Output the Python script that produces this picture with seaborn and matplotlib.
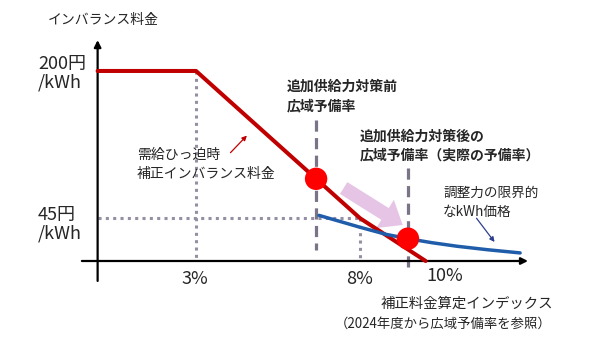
import numpy as np
import pandas as pd
import matplotlib
matplotlib.use("Agg")
import matplotlib.pyplot as plt
import seaborn as sns

# Corrected imbalance price (yen/kWh) against the wide-area reserve margin (%)
red_x = [0, 3, 8, 10]
red_y = [200, 200, 45, 0]

# Marginal kWh price of balancing capacity
blue_x = [6.75, 8.0, 8.8, 9.46, 10.2, 10.96, 11.9, 12.88]
blue_y = [48, 35.5, 28, 23.5, 19.2, 15.5, 11.8, 8.5]

# Reserve margin before / after the additional supply measures
before_x, before_y = 6.66, 86.5
after_x, after_y = 9.46, 23.5

price_levels = [200, 45]
price_labels = ["200円", "45円"]
index_ticks = [3, 8, 10]
index_labels = ["3%", "8%", "10%"]

sns.set_theme(style="white")
plt.rcParams["font.family"] = ["Noto Sans CJK JP", "DejaVu Sans"]

W, H = 590, 337
fig = plt.figure(figsize=(W / 100, H / 100), dpi=100)
ax = fig.add_axes([0, 0, 1, 1])
ax.set_xlim(-2.976, 15.01)
ax.set_ylim(-80.0, 274.7)
ax.axis("off")


def fx(px):
    return px / W


def fy(py):
    return 1 - py / H


dot_col = "#958FA3"
dash_col = "#7A7486"
red_col = "#C00000"
blue_col = "#1F5DAA"

# guide lines
dots = dict(color=dot_col, lw=2.2, ls=(0, (1, 1.4)), zorder=1)
ax.plot([0, 8], [45, 45], **dots)
ax.plot([3, 3], [200, 0], **dots)
ax.plot([8, 8], [45, 0], **dots)
ax.plot([before_x, before_x], [148, 12], color=dash_col, lw=2.3, ls=(0, (3.5, 2)), zorder=1)
ax.plot([after_x, after_x], [98, -10], color=dash_col, lw=2.3, ls=(0, (3.5, 2)), zorder=1)

# axes with arrow heads
ax.annotate("", xy=(0, 232.5), xytext=(0, -21),
            arrowprops=dict(arrowstyle="-|>", color="black", lw=1.6,
                            mutation_scale=10, shrinkA=0, shrinkB=0))
ax.annotate("", xy=(13.12, 0), xytext=(-0.48, 0),
            arrowprops=dict(arrowstyle="-|>", color="black", lw=1.6,
                            mutation_scale=10, shrinkA=0, shrinkB=0))

# shift arrow from the pre-measure point towards the actual point
ax.annotate("", xy=(9.3, 37.9), xytext=(7.5, 76.8),
            arrowprops=dict(arrowstyle="simple,head_length=0.75,head_width=1.2,tail_width=0.5",
                            color="#E6C4E6", mutation_scale=20, shrinkA=0, shrinkB=0,
                            lw=0),
            zorder=1)

sns.lineplot(x=red_x, y=red_y, ax=ax, color=red_col, lw=2.9, zorder=3)
sns.lineplot(x=blue_x, y=blue_y, ax=ax, color=blue_col, lw=2.5, zorder=3)
sns.scatterplot(x=[before_x, after_x], y=[before_y, after_y], ax=ax,
                color="#FF0000", s=260, edgecolor="none", zorder=5)

# small pointer arrows
ax.annotate("", xy=(4.55, 132), xytext=(4.05, 114),
            arrowprops=dict(arrowstyle="-|>", color=red_col, lw=0.9,
                            mutation_scale=7, shrinkA=0, shrinkB=0))
ax.annotate("", xy=(12.1, 20), xytext=(11.55, 45),
            arrowprops=dict(arrowstyle="-|>", color="#2F3F8F", lw=0.9,
                            mutation_scale=7, shrinkA=0, shrinkB=0))

# text
fig.text(fx(48), fy(20), "インバランス料金", fontsize=10, va="center", ha="left")
for lvl, lab, y1, y2 in zip(price_levels, price_labels, [64, 215], [83, 234]):
    fig.text(fx(38), fy(y1), lab, fontsize=13, va="center", ha="left")
    fig.text(fx(38), fy(y2), "/kWh", fontsize=13, va="center", ha="left")
for t, lab, px, py in zip(index_ticks, index_labels, [195, 360, 445], [279, 279, 276]):
    fig.text(fx(px), fy(py), lab, fontsize=13, va="center", ha="center")

fig.text(fx(287), fy(87), "追加供給力対策前", fontsize=10, fontweight="bold", va="center")
fig.text(fx(287), fy(106), "広域予備率", fontsize=10, fontweight="bold", va="center")
fig.text(fx(360), fy(137), "追加供給力対策後の", fontsize=10, fontweight="bold", va="center")
fig.text(fx(360), fy(155), "広域予備率（実際の予備率）", fontsize=10, fontweight="bold", va="center")
fig.text(fx(137), fy(155), "需給ひっ迫時", fontsize=10, va="center")
fig.text(fx(137), fy(174), "補正インバランス料金", fontsize=10, va="center")
fig.text(fx(443), fy(193), "調整力の限界的", fontsize=9.8, va="center")
fig.text(fx(443), fy(212), "なkWh価格", fontsize=9.8, va="center")
fig.text(fx(467), fy(304), "補正料金算定インデックス", fontsize=10.4, va="center", ha="center")
fig.text(fx(443), fy(324), "（2024年度から広域予備率を参照）", fontsize=9.6, va="center", ha="center")

fig.savefig("out.png", dpi=100)
